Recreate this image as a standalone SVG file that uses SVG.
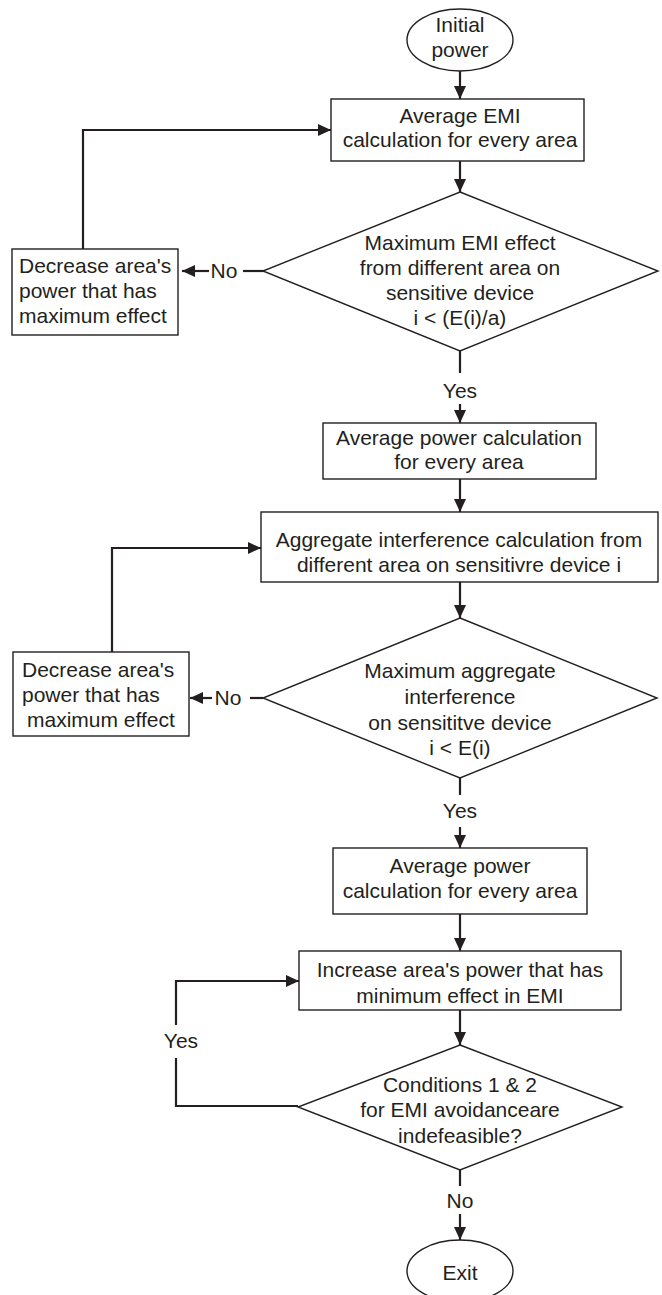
<svg xmlns="http://www.w3.org/2000/svg" width="662" height="1295" viewBox="0 0 662 1295">
<style>
.shape{fill:#fff;stroke:#231f20;stroke-width:1.4}
.conn{fill:none;stroke:#231f20;stroke-width:2.2}
text{font-family:"Liberation Sans",Arial,sans-serif;font-size:21px;fill:#231f20}
.c{text-anchor:middle}
</style>
<defs>
<marker id="ah" viewBox="0 0 13 12" refX="13" refY="6" markerWidth="13" markerHeight="12" markerUnits="userSpaceOnUse" orient="auto">
<path d="M0,0 L13,6 L0,12 z" fill="#231f20"/>
</marker>
</defs>
<rect width="662" height="1295" fill="#fff"/>

<g id="connectors">
<line class="conn" x1="460" y1="71" x2="460" y2="99" marker-end="url(#ah)"/>
<line class="conn" x1="460" y1="161" x2="460" y2="192" marker-end="url(#ah)"/>
<line class="conn" x1="265" y1="271" x2="243" y2="271"/>
<line class="conn" x1="209" y1="271" x2="182" y2="271" marker-end="url(#ah)"/>
<polyline class="conn" points="83,249 83,130 331,130" marker-end="url(#ah)"/>
<line class="conn" x1="460" y1="351" x2="460" y2="373"/>
<line class="conn" x1="460" y1="404" x2="460" y2="423" marker-end="url(#ah)"/>
<line class="conn" x1="460" y1="479" x2="460" y2="512" marker-end="url(#ah)"/>
<line class="conn" x1="460" y1="582" x2="460" y2="618" marker-end="url(#ah)"/>
<line class="conn" x1="263" y1="698" x2="250" y2="698"/>
<line class="conn" x1="212" y1="698" x2="190" y2="698" marker-end="url(#ah)"/>
<polyline class="conn" points="112,652 112,548 261,548" marker-end="url(#ah)"/>
<line class="conn" x1="460" y1="778" x2="460" y2="795"/>
<line class="conn" x1="460" y1="827" x2="460" y2="848" marker-end="url(#ah)"/>
<line class="conn" x1="460" y1="914" x2="460" y2="951" marker-end="url(#ah)"/>
<line class="conn" x1="460" y1="1010" x2="460" y2="1045" marker-end="url(#ah)"/>
<polyline class="conn" points="298,1106 176,1106 176,1058"/>
<polyline class="conn" points="176,1025 176,981 299,981" marker-end="url(#ah)"/>
<line class="conn" x1="460" y1="1170" x2="460" y2="1186"/>
<line class="conn" x1="460" y1="1214" x2="460" y2="1240" marker-end="url(#ah)"/>
<text x="224" y="278" class="c">No</text>
<text x="460" y="398" class="c">Yes</text>
<text x="228" y="705" class="c">No</text>
<text x="460" y="818" class="c">Yes</text>
<text x="181" y="1048" class="c">Yes</text>
<text x="460" y="1208" class="c">No</text>
</g>

<g id="start">
<ellipse class="shape" cx="460" cy="40" rx="53" ry="31"/>
<text x="460" y="32" class="c">Initial</text>
<text x="460" y="57" class="c">power</text>
</g>

<g id="avg-emi">
<rect class="shape" x="331" y="99" width="253" height="62"/>
<text x="460" y="123" class="c">Average EMI</text>
<text x="460" y="147" class="c">calculation for every area</text>
</g>

<g id="decision-emi">
<polygon class="shape" points="460,192 658,271 460,351 263,271"/>
<text x="460" y="250" class="c">Maximum EMI effect</text>
<text x="460" y="275" class="c">from different area on</text>
<text x="460" y="300" class="c">sensitive device</text>
<text x="460" y="325" class="c">i &lt; (E(i)/a)</text>
</g>

<g id="decrease-1">
<rect class="shape" x="12" y="249" width="166" height="86"/>
<text x="19" y="273">Decrease area's</text>
<text x="19" y="298">power that has</text>
<text x="19" y="323">maximum effect</text>
</g>

<g id="avg-power-1">
<rect class="shape" x="323" y="423" width="273" height="56"/>
<text x="459" y="445" class="c">Average power calculation</text>
<text x="459" y="469" class="c">for every area</text>
</g>

<g id="aggregate">
<rect class="shape" x="261" y="512" width="397" height="70"/>
<text x="459" y="547" class="c">Aggregate interference calculation from</text>
<text x="459" y="572" class="c">different area on sensitivre device i</text>
</g>

<g id="decision-aggregate">
<polygon class="shape" points="460,618 657,698 460,778 263,698"/>
<text x="460" y="678" class="c">Maximum aggregate</text>
<text x="460" y="704" class="c">interference</text>
<text x="460" y="730" class="c">on sensititve device</text>
<text x="460" y="755" class="c">i &lt; E(i)</text>
</g>

<g id="decrease-2">
<rect class="shape" x="13" y="652" width="176" height="84"/>
<text x="22" y="677">Decrease area's</text>
<text x="22" y="702">power that has</text>
<text x="27" y="727">maximum effect</text>
</g>

<g id="avg-power-2">
<rect class="shape" x="333" y="848" width="254" height="66"/>
<text x="460" y="873" class="c">Average power</text>
<text x="460" y="898" class="c">calculation for every area</text>
</g>

<g id="increase">
<rect class="shape" x="299" y="951" width="322" height="59"/>
<text x="460" y="977" class="c">Increase area's power that has</text>
<text x="460" y="1003" class="c">minimum effect in EMI</text>
</g>

<g id="decision-conditions">
<polygon class="shape" points="460,1045 622,1107 460,1170 298,1107"/>
<text x="460" y="1092" class="c">Conditions 1 &amp; 2</text>
<text x="460" y="1117" class="c">for EMI avoidanceare</text>
<text x="460" y="1143" class="c">indefeasible?</text>
</g>

<g id="exit">
<ellipse class="shape" cx="460" cy="1271" rx="53" ry="31"/>
<text x="460" y="1280" class="c">Exit</text>
</g>
</svg>
